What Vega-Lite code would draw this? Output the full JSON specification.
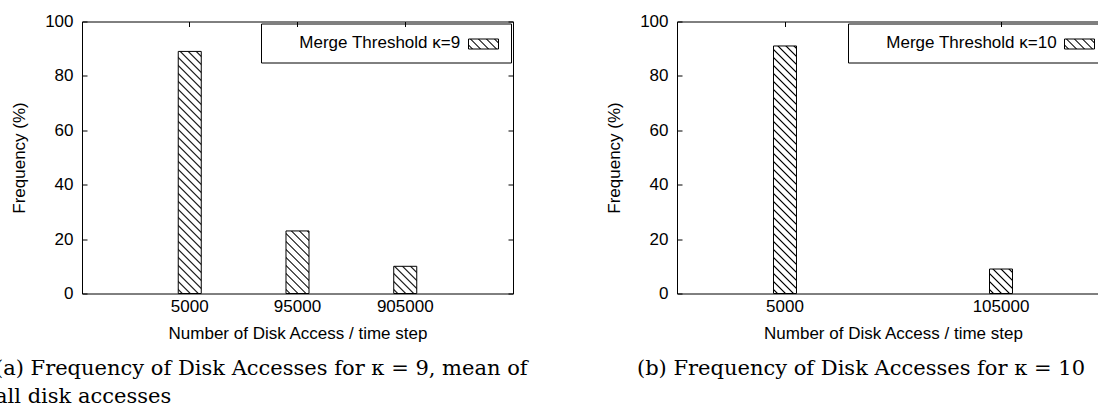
{
  "$schema": "https://vega.github.io/schema/vega-lite/v6.json",
  "padding": {"left": -6, "top": 11.5, "right": 0, "bottom": 0},
  "background": "white",
  "config": {
    "font": "Liberation Sans",
    "view": {"stroke": "black", "strokeWidth": 1},
    "axis": {"grid": false, "domain": false, "labelFont": "Liberation Sans", "labelFontSize": 17, "labelColor": "black", "titleFont": "Liberation Sans", "titleFontSize": 17, "titleFontWeight": "normal", "titleColor": "black", "tickColor": "black", "tickWidth": 1},
    "legend": {"orient": "top-right", "offset": 2, "titleOrient": "left", "titleAnchor": "middle", "titleFont": "Liberation Sans", "titleFontSize": 17, "titleFontWeight": "normal", "titleColor": "black", "titlePadding": 7, "titleLimit": 400, "labelFontSize": 17, "labelOffset": -15, "symbolType": "M-1.5,-0.5H1.5V0.5H-1.5Z", "symbolSize": 400, "symbolStrokeWidth": 1, "symbolStrokeColor": "black", "symbolOffset": 5, "strokeColor": "black", "padding": 10, "cornerRadius": 0}
  },
  "spacing": 164,
  "bounds": "flush",
  "resolve": {"scale": {"stroke": "independent"}, "legend": {"stroke": "independent"}},
  "hconcat": [
    {
      "width": 431,
      "height": 272,
      "data": {"values": [
        {"access": "5000", "freq": 89, "series": "Merge Threshold κ=9"},
        {"access": "95000", "freq": 23, "series": "Merge Threshold κ=9"},
        {"access": "905000", "freq": 10, "series": "Merge Threshold κ=9"}
      ]},
      "title": {"text": ["(a) Frequency of Disk Accesses for κ = 9, mean of", "all disk accesses"], "orient": "bottom", "anchor": "start", "frame": "group", "dx": -87, "offset": 16, "font": "DejaVu Serif", "fontSize": 21, "fontWeight": "normal", "color": "black", "lineHeight": 28},
      "resolve": {"axis": {"x": "independent", "y": "independent"}},
      "layer": [
        {
          "transform": [{"filter": "datum.access === '5000'"}],
          "mark": {"type": "bar", "strokeWidth": 0, "fill": {"gradient": "linear", "x1": 0, "y1": 1, "x2": 0.1058, "y2": -0.1136, "stops": [
            {"offset":0.0092,"color":"#fff"},{"offset":0.0147,"color":"#000"},{"offset":0.0202,"color":"#fff"},
            {"offset":0.0386,"color":"#fff"},{"offset":0.0441,"color":"#000"},{"offset":0.0496,"color":"#fff"},
            {"offset":0.068,"color":"#fff"},{"offset":0.0735,"color":"#000"},{"offset":0.079,"color":"#fff"},
            {"offset":0.0974,"color":"#fff"},{"offset":0.1029,"color":"#000"},{"offset":0.1084,"color":"#fff"},
            {"offset":0.1269,"color":"#fff"},{"offset":0.1324,"color":"#000"},{"offset":0.1379,"color":"#fff"},
            {"offset":0.1563,"color":"#fff"},{"offset":0.1618,"color":"#000"},{"offset":0.1673,"color":"#fff"},
            {"offset":0.1857,"color":"#fff"},{"offset":0.1912,"color":"#000"},{"offset":0.1967,"color":"#fff"},
            {"offset":0.2151,"color":"#fff"},{"offset":0.2206,"color":"#000"},{"offset":0.2261,"color":"#fff"},
            {"offset":0.2445,"color":"#fff"},{"offset":0.25,"color":"#000"},{"offset":0.2555,"color":"#fff"},
            {"offset":0.2739,"color":"#fff"},{"offset":0.2794,"color":"#000"},{"offset":0.2849,"color":"#fff"},
            {"offset":0.3033,"color":"#fff"},{"offset":0.3088,"color":"#000"},{"offset":0.3143,"color":"#fff"},
            {"offset":0.3327,"color":"#fff"},{"offset":0.3382,"color":"#000"},{"offset":0.3437,"color":"#fff"},
            {"offset":0.3621,"color":"#fff"},{"offset":0.3676,"color":"#000"},{"offset":0.3731,"color":"#fff"},
            {"offset":0.3916,"color":"#fff"},{"offset":0.3971,"color":"#000"},{"offset":0.4026,"color":"#fff"},
            {"offset":0.421,"color":"#fff"},{"offset":0.4265,"color":"#000"},{"offset":0.432,"color":"#fff"},
            {"offset":0.4504,"color":"#fff"},{"offset":0.4559,"color":"#000"},{"offset":0.4614,"color":"#fff"},
            {"offset":0.4798,"color":"#fff"},{"offset":0.4853,"color":"#000"},{"offset":0.4908,"color":"#fff"},
            {"offset":0.5092,"color":"#fff"},{"offset":0.5147,"color":"#000"},{"offset":0.5202,"color":"#fff"},
            {"offset":0.5386,"color":"#fff"},{"offset":0.5441,"color":"#000"},{"offset":0.5496,"color":"#fff"},
            {"offset":0.568,"color":"#fff"},{"offset":0.5735,"color":"#000"},{"offset":0.579,"color":"#fff"},
            {"offset":0.5974,"color":"#fff"},{"offset":0.6029,"color":"#000"},{"offset":0.6084,"color":"#fff"},
            {"offset":0.6269,"color":"#fff"},{"offset":0.6324,"color":"#000"},{"offset":0.6379,"color":"#fff"},
            {"offset":0.6563,"color":"#fff"},{"offset":0.6618,"color":"#000"},{"offset":0.6673,"color":"#fff"},
            {"offset":0.6857,"color":"#fff"},{"offset":0.6912,"color":"#000"},{"offset":0.6967,"color":"#fff"},
            {"offset":0.7151,"color":"#fff"},{"offset":0.7206,"color":"#000"},{"offset":0.7261,"color":"#fff"},
            {"offset":0.7445,"color":"#fff"},{"offset":0.75,"color":"#000"},{"offset":0.7555,"color":"#fff"},
            {"offset":0.7739,"color":"#fff"},{"offset":0.7794,"color":"#000"},{"offset":0.7849,"color":"#fff"},
            {"offset":0.8033,"color":"#fff"},{"offset":0.8088,"color":"#000"},{"offset":0.8143,"color":"#fff"},
            {"offset":0.8327,"color":"#fff"},{"offset":0.8382,"color":"#000"},{"offset":0.8437,"color":"#fff"},
            {"offset":0.8621,"color":"#fff"},{"offset":0.8676,"color":"#000"},{"offset":0.8731,"color":"#fff"},
            {"offset":0.8916,"color":"#fff"},{"offset":0.8971,"color":"#000"},{"offset":0.9026,"color":"#fff"},
            {"offset":0.921,"color":"#fff"},{"offset":0.9265,"color":"#000"},{"offset":0.932,"color":"#fff"},
            {"offset":0.9504,"color":"#fff"},{"offset":0.9559,"color":"#000"},{"offset":0.9614,"color":"#fff"}
          ]}},
          "encoding": {
            "x": {"field": "access", "type": "nominal", "sort": null, "scale": {"domain": ["5000", "95000", "905000"], "paddingInner": 0.78654, "paddingOuter": 0.89327},
                  "axis": {"orient": "bottom", "ticks": false, "labelAngle": 0, "labelPadding": 5, "title": "Number of Disk Access / time step", "titlePadding": 11}},
            "y": {"field": "freq", "type": "quantitative", "scale": {"domain": [0, 100], "nice": false},
                  "axis": {"orient": "left", "values": [0, 20, 40, 60, 80, 100], "tickSize": -5, "labelPadding": 14, "title": "Frequency (%)", "titlePadding": 16}}
          }
        },
        {
          "transform": [{"filter": "datum.access === '95000'"}],
          "mark": {"type": "bar", "strokeWidth": 0, "fill": {"gradient": "linear", "x1": 0, "y1": 1, "x2": 1.4081, "y2": -2.8301, "stops": [
            {"offset":0.0092,"color":"#fff"},{"offset":0.0147,"color":"#000"},{"offset":0.0202,"color":"#fff"},
            {"offset":0.0386,"color":"#fff"},{"offset":0.0441,"color":"#000"},{"offset":0.0496,"color":"#fff"},
            {"offset":0.068,"color":"#fff"},{"offset":0.0735,"color":"#000"},{"offset":0.079,"color":"#fff"},
            {"offset":0.0974,"color":"#fff"},{"offset":0.1029,"color":"#000"},{"offset":0.1084,"color":"#fff"},
            {"offset":0.1269,"color":"#fff"},{"offset":0.1324,"color":"#000"},{"offset":0.1379,"color":"#fff"},
            {"offset":0.1563,"color":"#fff"},{"offset":0.1618,"color":"#000"},{"offset":0.1673,"color":"#fff"},
            {"offset":0.1857,"color":"#fff"},{"offset":0.1912,"color":"#000"},{"offset":0.1967,"color":"#fff"},
            {"offset":0.2151,"color":"#fff"},{"offset":0.2206,"color":"#000"},{"offset":0.2261,"color":"#fff"},
            {"offset":0.2445,"color":"#fff"},{"offset":0.25,"color":"#000"},{"offset":0.2555,"color":"#fff"},
            {"offset":0.2739,"color":"#fff"},{"offset":0.2794,"color":"#000"},{"offset":0.2849,"color":"#fff"},
            {"offset":0.3033,"color":"#fff"},{"offset":0.3088,"color":"#000"},{"offset":0.3143,"color":"#fff"}
          ]}},
          "encoding": {
            "x": {"field": "access", "type": "nominal", "sort": null, "scale": {"domain": ["5000", "95000", "905000"], "paddingInner": 0.78654, "paddingOuter": 0.89327}, "axis": null},
            "y": {"field": "freq", "type": "quantitative", "scale": {"domain": [0, 100], "nice": false}, "axis": null}
          }
        },
        {
          "transform": [{"filter": "datum.access === '905000'"}],
          "mark": {"type": "bar", "strokeWidth": 0, "fill": {"gradient": "linear", "x1": 0, "y1": 1, "x2": 4.9305, "y2": -4.8308, "stops": [
            {"offset":0.0092,"color":"#fff"},{"offset":0.0147,"color":"#000"},{"offset":0.0202,"color":"#fff"},
            {"offset":0.0386,"color":"#fff"},{"offset":0.0441,"color":"#000"},{"offset":0.0496,"color":"#fff"},
            {"offset":0.068,"color":"#fff"},{"offset":0.0735,"color":"#000"},{"offset":0.079,"color":"#fff"},
            {"offset":0.0974,"color":"#fff"},{"offset":0.1029,"color":"#000"},{"offset":0.1084,"color":"#fff"},
            {"offset":0.1269,"color":"#fff"},{"offset":0.1324,"color":"#000"},{"offset":0.1379,"color":"#fff"},
            {"offset":0.1563,"color":"#fff"},{"offset":0.1618,"color":"#000"},{"offset":0.1673,"color":"#fff"},
            {"offset":0.1857,"color":"#fff"},{"offset":0.1912,"color":"#000"},{"offset":0.1967,"color":"#fff"}
          ]}},
          "encoding": {
            "x": {"field": "access", "type": "nominal", "sort": null, "scale": {"domain": ["5000", "95000", "905000"], "paddingInner": 0.78654, "paddingOuter": 0.89327}, "axis": null},
            "y": {"field": "freq", "type": "quantitative", "scale": {"domain": [0, 100], "nice": false}, "axis": null}
          }
        },
        {
          "mark": {"type": "bar", "filled": false, "stroke": "black", "strokeWidth": 1},
          "encoding": {
            "x": {"field": "access", "type": "nominal", "sort": null, "scale": {"domain": ["5000", "95000", "905000"], "paddingInner": 0.78654, "paddingOuter": 0.89327},
                  "axis": {"orient": "top", "labels": false, "tickSize": -5, "title": null}},
            "y": {"field": "freq", "type": "quantitative", "scale": {"domain": [0, 100], "nice": false},
                  "axis": {"orient": "right", "labels": false, "values": [0, 20, 40, 60, 80, 100], "tickSize": -5, "title": null}}
          }
        },
        {
          "transform": [{"filter": "false"}],
          "mark": {"type": "bar", "strokeWidth": 1, "fill": {"gradient": "linear", "x1": 0, "y1": 1, "x2": 8.16, "y2": -1.72, "stops": [
            {"offset":0.0092,"color":"#fff"},{"offset":0.0147,"color":"#000"},{"offset":0.0202,"color":"#fff"},
            {"offset":0.0386,"color":"#fff"},{"offset":0.0441,"color":"#000"},{"offset":0.0496,"color":"#fff"},
            {"offset":0.068,"color":"#fff"},{"offset":0.0735,"color":"#000"},{"offset":0.079,"color":"#fff"},
            {"offset":0.0974,"color":"#fff"},{"offset":0.1029,"color":"#000"},{"offset":0.1084,"color":"#fff"},
            {"offset":0.1269,"color":"#fff"},{"offset":0.1324,"color":"#000"},{"offset":0.1379,"color":"#fff"}
          ]}},
          "encoding": {
            "x": {"field": "access", "type": "nominal", "sort": null, "scale": {"domain": ["5000", "95000", "905000"], "paddingInner": 0.78654, "paddingOuter": 0.89327}, "axis": null},
            "y": {"field": "freq", "type": "quantitative", "scale": {"domain": [0, 100], "nice": false}, "axis": null},
            "stroke": {"field": "series", "type": "nominal", "scale": {"domain": ["Merge Threshold κ=9"], "range": ["black"]},
              "legend": {"title": "\u200b\u00a0\u00a0\u00a0\u00a0\u00a0\u00a0Merge Threshold κ=9", "labelExpr": "''"}}
          }
        }
      ]
    },
    {
      "width": 432,
      "height": 272,
      "data": {"values": [
        {"access": "5000", "freq": 91, "series": "Merge Threshold κ=10"},
        {"access": "105000", "freq": 9, "series": "Merge Threshold κ=10"}
      ]},
      "title": {"text": "(b) Frequency of Disk Accesses for κ = 10", "orient": "bottom", "anchor": "middle", "frame": "group", "dx": -32, "offset": 16, "font": "DejaVu Serif", "fontSize": 21, "fontWeight": "normal", "color": "black"},
      "resolve": {"axis": {"x": "independent", "y": "independent"}},
      "layer": [
        {
          "transform": [{"filter": "datum.access === '5000'"}],
          "mark": {"type": "bar", "strokeWidth": 0, "fill": {"gradient": "linear", "x1": 0, "y1": 1, "x2": 0.1012, "y2": -0.0895, "stops": [
            {"offset":0.0092,"color":"#fff"},{"offset":0.0147,"color":"#000"},{"offset":0.0202,"color":"#fff"},
            {"offset":0.0386,"color":"#fff"},{"offset":0.0441,"color":"#000"},{"offset":0.0496,"color":"#fff"},
            {"offset":0.068,"color":"#fff"},{"offset":0.0735,"color":"#000"},{"offset":0.079,"color":"#fff"},
            {"offset":0.0974,"color":"#fff"},{"offset":0.1029,"color":"#000"},{"offset":0.1084,"color":"#fff"},
            {"offset":0.1269,"color":"#fff"},{"offset":0.1324,"color":"#000"},{"offset":0.1379,"color":"#fff"},
            {"offset":0.1563,"color":"#fff"},{"offset":0.1618,"color":"#000"},{"offset":0.1673,"color":"#fff"},
            {"offset":0.1857,"color":"#fff"},{"offset":0.1912,"color":"#000"},{"offset":0.1967,"color":"#fff"},
            {"offset":0.2151,"color":"#fff"},{"offset":0.2206,"color":"#000"},{"offset":0.2261,"color":"#fff"},
            {"offset":0.2445,"color":"#fff"},{"offset":0.25,"color":"#000"},{"offset":0.2555,"color":"#fff"},
            {"offset":0.2739,"color":"#fff"},{"offset":0.2794,"color":"#000"},{"offset":0.2849,"color":"#fff"},
            {"offset":0.3033,"color":"#fff"},{"offset":0.3088,"color":"#000"},{"offset":0.3143,"color":"#fff"},
            {"offset":0.3327,"color":"#fff"},{"offset":0.3382,"color":"#000"},{"offset":0.3437,"color":"#fff"},
            {"offset":0.3621,"color":"#fff"},{"offset":0.3676,"color":"#000"},{"offset":0.3731,"color":"#fff"},
            {"offset":0.3916,"color":"#fff"},{"offset":0.3971,"color":"#000"},{"offset":0.4026,"color":"#fff"},
            {"offset":0.421,"color":"#fff"},{"offset":0.4265,"color":"#000"},{"offset":0.432,"color":"#fff"},
            {"offset":0.4504,"color":"#fff"},{"offset":0.4559,"color":"#000"},{"offset":0.4614,"color":"#fff"},
            {"offset":0.4798,"color":"#fff"},{"offset":0.4853,"color":"#000"},{"offset":0.4908,"color":"#fff"},
            {"offset":0.5092,"color":"#fff"},{"offset":0.5147,"color":"#000"},{"offset":0.5202,"color":"#fff"},
            {"offset":0.5386,"color":"#fff"},{"offset":0.5441,"color":"#000"},{"offset":0.5496,"color":"#fff"},
            {"offset":0.568,"color":"#fff"},{"offset":0.5735,"color":"#000"},{"offset":0.579,"color":"#fff"},
            {"offset":0.5974,"color":"#fff"},{"offset":0.6029,"color":"#000"},{"offset":0.6084,"color":"#fff"},
            {"offset":0.6269,"color":"#fff"},{"offset":0.6324,"color":"#000"},{"offset":0.6379,"color":"#fff"},
            {"offset":0.6563,"color":"#fff"},{"offset":0.6618,"color":"#000"},{"offset":0.6673,"color":"#fff"},
            {"offset":0.6857,"color":"#fff"},{"offset":0.6912,"color":"#000"},{"offset":0.6967,"color":"#fff"},
            {"offset":0.7151,"color":"#fff"},{"offset":0.7206,"color":"#000"},{"offset":0.7261,"color":"#fff"},
            {"offset":0.7445,"color":"#fff"},{"offset":0.75,"color":"#000"},{"offset":0.7555,"color":"#fff"},
            {"offset":0.7739,"color":"#fff"},{"offset":0.7794,"color":"#000"},{"offset":0.7849,"color":"#fff"},
            {"offset":0.8033,"color":"#fff"},{"offset":0.8088,"color":"#000"},{"offset":0.8143,"color":"#fff"},
            {"offset":0.8327,"color":"#fff"},{"offset":0.8382,"color":"#000"},{"offset":0.8437,"color":"#fff"},
            {"offset":0.8621,"color":"#fff"},{"offset":0.8676,"color":"#000"},{"offset":0.8731,"color":"#fff"},
            {"offset":0.8916,"color":"#fff"},{"offset":0.8971,"color":"#000"},{"offset":0.9026,"color":"#fff"},
            {"offset":0.921,"color":"#fff"},{"offset":0.9265,"color":"#000"},{"offset":0.932,"color":"#fff"},
            {"offset":0.9504,"color":"#fff"},{"offset":0.9559,"color":"#000"},{"offset":0.9614,"color":"#fff"},
            {"offset":0.9798,"color":"#fff"},{"offset":0.9853,"color":"#000"},{"offset":0.9908,"color":"#fff"}
          ]}},
          "encoding": {
            "x": {"field": "access", "type": "nominal", "sort": null, "scale": {"domain": ["5000", "105000"], "paddingInner": 0.89352, "paddingOuter": 0.44676},
                  "axis": {"orient": "bottom", "ticks": false, "labelAngle": 0, "labelPadding": 5, "title": "Number of Disk Access / time step", "titlePadding": 11}},
            "y": {"field": "freq", "type": "quantitative", "scale": {"domain": [0, 100], "nice": false},
                  "axis": {"orient": "left", "values": [0, 20, 40, 60, 80, 100], "tickSize": -5, "labelPadding": 14, "title": "Frequency (%)", "titlePadding": 16}}
          }
        },
        {
          "transform": [{"filter": "datum.access === '105000'"}],
          "mark": {"type": "bar", "strokeWidth": 0, "fill": {"gradient": "linear", "x1": 0, "y1": 1, "x2": 5.5448, "y2": -4.9016, "stops": [
            {"offset":0.0092,"color":"#fff"},{"offset":0.0147,"color":"#000"},{"offset":0.0202,"color":"#fff"},
            {"offset":0.0386,"color":"#fff"},{"offset":0.0441,"color":"#000"},{"offset":0.0496,"color":"#fff"},
            {"offset":0.068,"color":"#fff"},{"offset":0.0735,"color":"#000"},{"offset":0.079,"color":"#fff"},
            {"offset":0.0974,"color":"#fff"},{"offset":0.1029,"color":"#000"},{"offset":0.1084,"color":"#fff"},
            {"offset":0.1269,"color":"#fff"},{"offset":0.1324,"color":"#000"},{"offset":0.1379,"color":"#fff"},
            {"offset":0.1563,"color":"#fff"},{"offset":0.1618,"color":"#000"},{"offset":0.1673,"color":"#fff"}
          ]}},
          "encoding": {
            "x": {"field": "access", "type": "nominal", "sort": null, "scale": {"domain": ["5000", "105000"], "paddingInner": 0.89352, "paddingOuter": 0.44676}, "axis": null},
            "y": {"field": "freq", "type": "quantitative", "scale": {"domain": [0, 100], "nice": false}, "axis": null}
          }
        },
        {
          "mark": {"type": "bar", "filled": false, "stroke": "black", "strokeWidth": 1},
          "encoding": {
            "x": {"field": "access", "type": "nominal", "sort": null, "scale": {"domain": ["5000", "105000"], "paddingInner": 0.89352, "paddingOuter": 0.44676},
                  "axis": {"orient": "top", "labels": false, "tickSize": -5, "title": null}},
            "y": {"field": "freq", "type": "quantitative", "scale": {"domain": [0, 100], "nice": false},
                  "axis": {"orient": "right", "labels": false, "values": [0, 20, 40, 60, 80, 100], "tickSize": -5, "title": null}}
          }
        },
        {
          "transform": [{"filter": "false"}],
          "mark": {"type": "bar", "strokeWidth": 1, "fill": {"gradient": "linear", "x1": 0, "y1": 1, "x2": 8.16, "y2": -1.72, "stops": [
            {"offset":0.0092,"color":"#fff"},{"offset":0.0147,"color":"#000"},{"offset":0.0202,"color":"#fff"},
            {"offset":0.0386,"color":"#fff"},{"offset":0.0441,"color":"#000"},{"offset":0.0496,"color":"#fff"},
            {"offset":0.068,"color":"#fff"},{"offset":0.0735,"color":"#000"},{"offset":0.079,"color":"#fff"},
            {"offset":0.0974,"color":"#fff"},{"offset":0.1029,"color":"#000"},{"offset":0.1084,"color":"#fff"},
            {"offset":0.1269,"color":"#fff"},{"offset":0.1324,"color":"#000"},{"offset":0.1379,"color":"#fff"}
          ]}},
          "encoding": {
            "x": {"field": "access", "type": "nominal", "sort": null, "scale": {"domain": ["5000", "105000"], "paddingInner": 0.89352, "paddingOuter": 0.44676}, "axis": null},
            "y": {"field": "freq", "type": "quantitative", "scale": {"domain": [0, 100], "nice": false}, "axis": null},
            "stroke": {"field": "series", "type": "nominal", "scale": {"domain": ["Merge Threshold κ=10"], "range": ["black"]},
              "legend": {"title": "\u200b\u00a0\u00a0\u00a0\u00a0\u00a0\u00a0Merge Threshold κ=10", "labelExpr": "''"}}
          }
        }
      ]
    }
  ]
}
